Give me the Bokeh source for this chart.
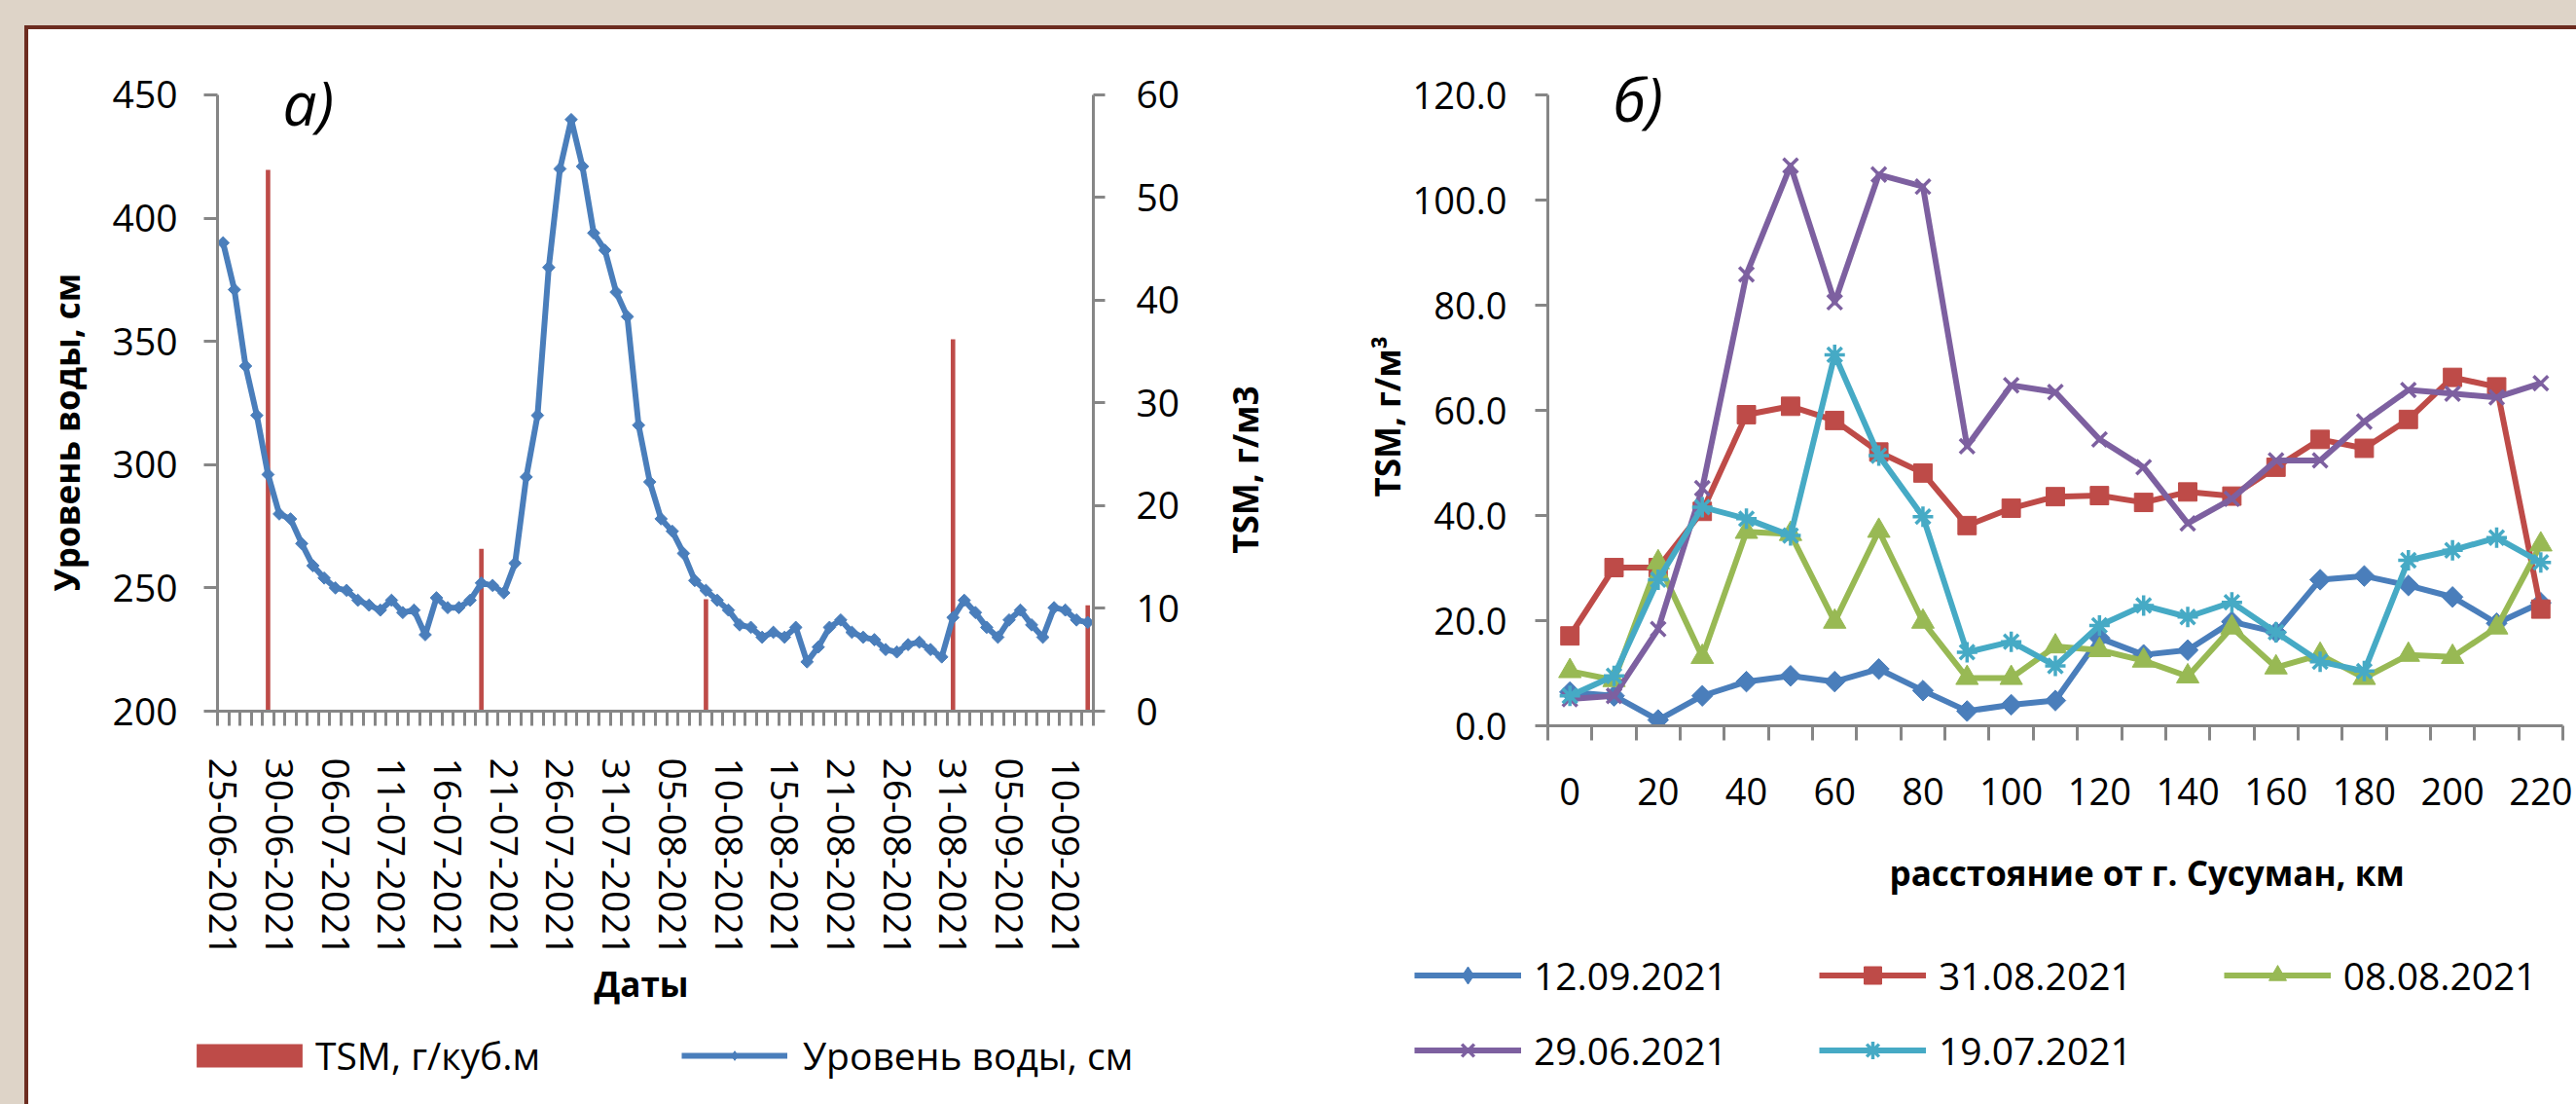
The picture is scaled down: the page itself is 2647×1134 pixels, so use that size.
import math
from bokeh.plotting import figure
from bokeh.models import (Range1d, LinearAxis, FixedTicker, Legend, LegendItem,
                          Label, NumeralTickFormatter, Title)
from bokeh.layouts import row, column
from bokeh.embed import file_html
from bokeh.resources import INLINE

FONT = "Open Sans"
GRAY = "#868686"
BEIGE = "#ded4c8"
BROWN = "#6c2c20"
TICK_A = "39px"
TICK_B = "38px"
TITLE_SIZE = "35px"

# ---------------- chart a) data ----------------
DATES = [
    "25-06-2021", "26-06-2021", "27-06-2021", "28-06-2021", "29-06-2021", "30-06-2021",
    "01-07-2021", "02-07-2021", "03-07-2021", "05-07-2021",
    "06-07-2021", "07-07-2021", "08-07-2021", "09-07-2021", "10-07-2021", "11-07-2021",
    "12-07-2021", "13-07-2021", "14-07-2021", "15-07-2021", "16-07-2021", "17-07-2021",
    "18-07-2021", "19-07-2021", "20-07-2021", "21-07-2021", "22-07-2021", "23-07-2021",
    "24-07-2021", "25-07-2021", "26-07-2021", "27-07-2021", "28-07-2021", "29-07-2021",
    "30-07-2021", "31-07-2021",
    "01-08-2021", "02-08-2021", "03-08-2021", "04-08-2021", "05-08-2021", "06-08-2021",
    "07-08-2021", "08-08-2021", "09-08-2021", "10-08-2021", "11-08-2021", "12-08-2021",
    "13-08-2021", "14-08-2021", "15-08-2021", "16-08-2021", "17-08-2021", "18-08-2021",
    "20-08-2021", "21-08-2021", "22-08-2021", "23-08-2021", "24-08-2021", "25-08-2021",
    "26-08-2021", "27-08-2021", "28-08-2021", "29-08-2021", "30-08-2021", "31-08-2021",
    "01-09-2021", "02-09-2021", "03-09-2021", "04-09-2021", "05-09-2021", "06-09-2021",
    "07-09-2021", "08-09-2021", "09-09-2021", "10-09-2021", "11-09-2021", "12-09-2021",
]
LEVEL_CM = [
    390, 371, 340, 320, 296, 280, 278, 268, 259, 254,
    250, 249, 245, 243, 241, 245, 240, 241, 231, 246,
    242, 242, 245, 252, 251, 248, 260, 295, 320, 380,
    420, 440, 421, 394, 387, 370, 360, 316, 293, 278,
    273, 264, 253, 249, 245, 241, 235, 234, 230, 232,
    230, 234, 220, 226, 234, 237, 232, 230, 229, 225,
    224, 227, 228, 225, 222, 238, 245, 240, 234, 230,
    237, 241, 235, 230, 242, 241, 237, 236,
]
TSM_DATES = ["29-06-2021", "19-07-2021", "08-08-2021", "31-08-2021", "12-09-2021"]
TSM_VALUES = [52.7, 15.8, 10.9, 36.2, 10.3]
LEVEL_TICKS = [200, 250, 300, 350, 400, 450]
TSM_TICKS = [0, 10, 20, 30, 40, 50, 60]

# ---------------- chart б) data ----------------
DIST_KM = [0, 10, 20, 30, 40, 50, 60, 70, 80, 90, 100, 110, 120, 130, 140, 150,
           160, 170, 180, 190, 200, 210, 220]
DIST_TICKS = [0, 20, 40, 60, 80, 100, 120, 140, 160, 180, 200, 220]
TSM_B_TICKS = [0, 20, 40, 60, 80, 100, 120]
TSM_1209 = [6.4, 5.7, 1.1, 5.7, 8.4, 9.5, 8.4, 10.8, 6.7, 2.8, 4.0, 4.8, 16.7, 13.5,
            14.4, 19.8, 17.8, 27.8, 28.5, 26.7, 24.5, 19.5, 23.4]
TSM_3108 = [17.1, 30.1, 30.1, 40.8, 59.2, 60.8, 58.1, 52.1, 48.1, 38.1, 41.4, 43.6,
            43.8, 42.5, 44.5, 43.7, 49.2, 54.5, 52.8, 58.3, 66.3, 64.5, 22.2]
TSM_0808 = [10.4, 8.7, 31.1, 13.1, 36.9, 36.5, 19.8, 37.1, 19.8, 9.1, 9.1, 15.1, 14.4,
            12.4, 9.4, 18.7, 11.1, 13.5, 9.1, 13.5, 13.1, 18.7, 34.5]
TSM_2906 = [5.1, 5.7, 18.4, 45.2, 85.9, 106.6, 80.6, 104.9, 102.6, 53.2, 64.8, 63.5,
            54.5, 49.2, 38.5, 43.2, 50.5, 50.5, 57.9, 63.9, 63.2, 62.5, 65.2]
TSM_1907 = [5.7, 9.5, 27.8, 41.6, 39.4, 36.2, 70.6, 51.4, 39.8, 14.0, 16.0, 11.4, 19.1,
            22.9, 20.7, 23.5, 17.8, 12.2, 10.4, 31.5, 33.4, 35.8, 31.1]
SERIES_B = [
    ("12.09.2021", TSM_1209, "#4A7EBB", "diamond"),
    ("31.08.2021", TSM_3108, "#BE4B48", "square"),
    ("08.08.2021", TSM_0808, "#98B954", "triangle"),
    ("29.06.2021", TSM_2906, "#7D60A0", "x"),
    ("19.07.2021", TSM_1907, "#46AAC5", "asterisk"),
]


def style_axis(ax, tick_out, standoff, size):
    ax.axis_line_color = GRAY
    ax.axis_line_width = 3
    ax.major_tick_line_color = GRAY
    ax.major_tick_line_width = 3
    ax.major_tick_out = tick_out
    ax.major_tick_in = 0
    ax.minor_tick_line_color = None
    ax.major_label_text_font = FONT
    ax.major_label_text_font_size = size
    ax.major_label_text_color = "black"
    ax.major_label_standoff = standoff


def axis_title(text, offset, standoff, valign="bottom"):
    return Title(text=text, align="left", offset=offset, standoff=standoff,
                 vertical_align=valign, text_font=FONT, text_font_size=TITLE_SIZE,
                 text_font_style="bold", text_color="black")


def strip_fig(width, height, y_range):
    f = figure(width=width, height=height, output_backend="svg", toolbar_location=None,
               x_range=Range1d(0, 1), y_range=y_range, min_border=0,
               x_axis_location=None, y_axis_location=None, outline_line_color=None,
               background_fill_alpha=0, border_fill_alpha=0)
    f.xgrid.visible = False
    f.ygrid.visible = False
    return f


def add_series_glyphs(fig, x, y, color, marker, line_width, msize, legend_glyph=False):
    ln = fig.line(x, y, line_color=color, line_width=line_width, line_join="round")
    if marker == "diamond":
        if legend_glyph:
            sc = fig.scatter(x, y, marker="diamond", size=msize * 1.3,
                             fill_color=color, line_color=color)
        else:
            sc = fig.scatter(x, y, marker="square", angle=math.pi / 4,
                             size=msize * 0.72, fill_color=color, line_color=color)
    elif marker in ("x", "asterisk"):
        sc = fig.scatter(x, y, marker=marker, size=msize, line_color=color,
                         line_width=3.5)
    elif marker == "triangle":
        sc = fig.scatter(x, y, marker="triangle", size=msize * 1.1, fill_color=color,
                         line_color=color)
    else:
        sc = fig.scatter(x, y, marker="square", size=msize * 0.9, fill_color=color,
                         line_color=color)
    return ln, sc


def make_legend(items, location, glyph_width, glyph_height, standoff, spacing):
    return Legend(items=items, orientation="horizontal", location=location,
                  glyph_width=glyph_width, glyph_height=glyph_height,
                  label_standoff=standoff, spacing=spacing, padding=0, margin=0,
                  border_line_color=None, background_fill_alpha=0,
                  label_text_font=FONT, label_text_font_size="39px",
                  label_text_color="black")


# ================= figure a) =================
n = len(DATES)
lvl_x = list(range(n))
tsm_x = [DATES.index(d) for d in TSM_DATES]

pa = figure(width=1250, height=1050, output_backend="svg", toolbar_location=None,
            x_range=Range1d(-0.5, n - 0.5), y_range=Range1d(200, 457.5),
            min_border_left=223, min_border_right=127, min_border_top=78,
            min_border_bottom=320, background_fill_color="white",
            border_fill_alpha=0, outline_line_color=None)
pa.xgrid.visible = False
pa.ygrid.visible = False
pa.extra_y_ranges = {"tsm": Range1d(0, 61.8)}

xa = pa.xaxis[0]
style_axis(xa, 0, 33, TICK_A)
xa.ticker = FixedTicker(ticks=list(range(0, n, 5)),
                        minor_ticks=[k - 0.5 for k in range(n + 1)])
xa.major_label_overrides = {k: DATES[k] for k in range(0, n, 5)}
xa.major_label_orientation = "vertical"
xa.major_tick_line_color = None
xa.minor_tick_line_color = GRAY
xa.minor_tick_line_width = 3
xa.minor_tick_out = 15
xa.minor_tick_in = 0

ya = pa.yaxis[0]
style_axis(ya, 14, 27, TICK_A)
ya.ticker = FixedTicker(ticks=LEVEL_TICKS)
ya.bounds = (LEVEL_TICKS[0], LEVEL_TICKS[-1])

ra = LinearAxis(y_range_name="tsm", ticker=FixedTicker(ticks=TSM_TICKS),
                bounds=(TSM_TICKS[0], TSM_TICKS[-1]))
style_axis(ra, 12, 32, TICK_A)
pa.add_layout(ra, "right")

pa.add_layout(axis_title("Уровень воды, см", 123, 42), "left")
pa.add_layout(axis_title("Даты", 387, 0), "below")

pa.vbar(x=tsm_x, top=TSM_VALUES, bottom=0, width=0.4, y_range_name="tsm",
        fill_color="#BE4B48", line_color=None)
pa.line(lvl_x, LEVEL_CM, line_color="#4A7EBB", line_width=6, line_join="round")
pa.scatter(lvl_x, LEVEL_CM, marker="square", angle=math.pi / 4, size=9,
           fill_color="#4A7EBB", line_color="#4A7EBB")

pa.add_layout(Label(x=67, y=626, x_units="screen", y_units="screen", text="а)",
                    text_font=FONT, text_font_size="62px", text_font_style="italic",
                    text_color="black", text_align="left", text_baseline="middle"))

# legend strip of a): its y range lies below all data, so only legend glyphs show
lega = strip_fig(1250, 84, Range1d(-2, -1))
lbar = lega.vbar(x=tsm_x, top=TSM_VALUES, bottom=0, width=0.4,
                 fill_color="#BE4B48", line_color=None)
lln = lega.line(lvl_x, LEVEL_CM, line_color="#4A7EBB", line_width=6)
lsc = lega.scatter(lvl_x, LEVEL_CM, marker="diamond", size=11,
                   fill_color="#4A7EBB", line_color="#4A7EBB")
# area swatches are drawn inset by 10 %, hence the larger glyph box for the bar item
lega.add_layout(make_legend([LegendItem(label="TSM, г/куб.м", renderers=[lbar])],
                            (188, 24), 136, 30, 0, 0))
lega.add_layout(make_legend([LegendItem(label="Уровень воды, см", renderers=[lln, lsc])],
                            (700, 24), 109, 24, 16, 0))

# right-hand title of a) (reads bottom to top)
txta = strip_fig(80, 1134, Range1d(0, 1))
txta.add_layout(Label(x=29, y=652, x_units="screen", y_units="screen",
                      text="TSM, г/м3", angle=math.pi / 2, text_font=FONT,
                      text_font_size=TITLE_SIZE, text_font_style="bold",
                      text_color="black", text_align="center", text_baseline="middle"))

# ================= figure б) =================
pb = figure(width=1317, height=960, output_backend="svg", toolbar_location=None,
            x_range=Range1d(-5, 225), y_range=Range1d(0, 123.57),
            min_border_left=260, min_border_right=14, min_border_top=78,
            min_border_bottom=214, background_fill_color="white",
            border_fill_alpha=0, outline_line_color=None)
pb.xgrid.visible = False
pb.ygrid.visible = False

xb = pb.xaxis[0]
style_axis(xb, 0, 38, TICK_B)
xb.ticker = FixedTicker(ticks=DIST_TICKS,
                        minor_ticks=[d - 5 for d in DIST_KM] + [DIST_KM[-1] + 5])
xb.major_tick_line_color = None
xb.minor_tick_line_color = GRAY
xb.minor_tick_line_width = 3
xb.minor_tick_out = 15
xb.minor_tick_in = 0

yb = pb.yaxis[0]
style_axis(yb, 13, 29, TICK_B)
yb.ticker = FixedTicker(ticks=TSM_B_TICKS)
yb.formatter = NumeralTickFormatter(format="0.0")
yb.bounds = (TSM_B_TICKS[0], TSM_B_TICKS[-1])

pb.add_layout(axis_title("TSM, г/м³", 235, 0), "left")
pb.add_layout(axis_title("расстояние от г. Сусуман, км", 351, 82), "below")

for name, vals, color, marker in SERIES_B:
    add_series_glyphs(pb, DIST_KM, vals, color, marker, 6, 21)

pb.add_layout(Label(x=67, y=645, x_units="screen", y_units="screen", text="б)",
                    text_font=FONT, text_font_size="62px", text_font_style="italic",
                    text_color="black", text_align="left", text_baseline="middle"))

# legend strip of б): two rows (3 + 2 items)
legb = strip_fig(1317, 174, Range1d(-2, -1))
items_b = []
for name, vals, color, marker in SERIES_B:
    ln, sc = add_series_glyphs(legb, DIST_KM, vals, color, marker, 6, 21,
                               legend_glyph=True)
    items_b.append(LegendItem(label=name, renderers=[ln, sc]))
legb.add_layout(make_legend(items_b[:3], (123, 106), 110, 45, 13, 94))
legb.add_layout(make_legend(items_b[3:], (123, 29), 110, 45, 13, 94))

# ================= page layout =================
# the legend strips are wrapped in their own rows so that their frames are not
# aligned with the chart frames above them
layout = row(column(pa, row(lega)), txta, column(pb, row(legb)))

css = """<style>
html, body { margin: 0; padding: 0; }
body { background: transparent; }
html { background:
  linear-gradient(%(b)s, %(b)s) 25px 26px / 4px 1108px no-repeat,
  linear-gradient(%(b)s, %(b)s) 25px 26px / 2622px 4px no-repeat,
  linear-gradient(%(g)s, %(g)s) 0 0 / 2647px 26px no-repeat,
  linear-gradient(%(g)s, %(g)s) 0 0 / 25px 1134px no-repeat,
  #ffffff; }
</style>
""" % {"b": BROWN, "g": BEIGE}

html = file_html(layout, INLINE, title="TSM")
html = html.replace("</head>", css + "</head>", 1)
with open("out.html", "w", encoding="utf-8") as f:
    f.write(html)
